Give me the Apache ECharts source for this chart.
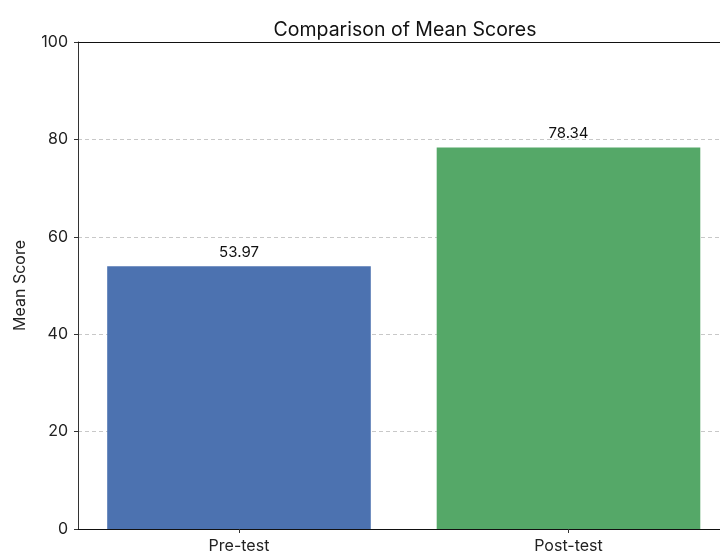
<!DOCTYPE html>
<html><head><meta charset="utf-8">
<script src="https://cdn.jsdelivr.net/npm/echarts@6/dist/echarts.min.js"></script>
<style>html,body{margin:0;padding:0;background:#fff}#c{width:720px;height:555px}</style>
</head><body><div id="c"></div>
<script>
const categories = ["Pre-test", "Post-test"];
const meanScores = [53.97, 78.34];
const barColors = ["#4C72B0", "#55A868"];
const yTicks = [0, 20, 40, 60, 80, 100];
const BAR_W = 0.8;

const chart = echarts.init(document.getElementById('c'), null, {renderer: 'canvas'});
const FONT = 'Inter, "Noto Sans", sans-serif';
const X_MIN = -0.4886, X_MAX = 1.4598;
chart.setOption({
  animation: false,
  backgroundColor: '#fff',
  title: {
    text: 'Comparison of Mean Scores', left: 400, top: 15, textAlign: 'center',
    textStyle: {fontFamily: FONT, fontSize: 19.5, fontWeight: 'normal', color: '#111'}
  },
  grid: {left: 78, top: 42, width: 642, height: 487},
  xAxis: [{
    type: 'value', min: X_MIN, max: X_MAX,
    axisLine: {show: true, onZero: false, lineStyle: {color: '#111', width: 1}},
    splitLine: {show: false},
    axisTick: {show: true, customValues: [0, 1], length: 4, lineStyle: {color: '#333'}},
    axisLabel: {
      customValues: [0, 1], margin: 9,
      formatter: v => categories[Math.round(v)] || '',
      fontFamily: FONT, fontSize: 16, color: '#222'
    }
  }, {
    type: 'value', position: 'top', min: X_MIN, max: X_MAX,
    axisLine: {show: true, onZero: false, lineStyle: {color: '#111', width: 1}},
    splitLine: {show: false}, axisTick: {show: false}, axisLabel: {show: false}
  }],
  yAxis: {
    type: 'value', min: 0, max: 100, interval: 20,
    name: 'Mean Score', nameLocation: 'middle', nameGap: 50, nameRotate: 90,
    nameTextStyle: {fontFamily: FONT, fontSize: 16, color: '#222'},
    axisLine: {show: true, onZero: false, lineStyle: {color: '#333', width: 1}},
    axisTick: {show: true, inside: false, length: 4, lineStyle: {color: '#333'}},
    axisLabel: {margin: 10, fontFamily: FONT, fontSize: 16, color: '#222'},
    splitLine: {show: true, lineStyle: {type: [4, 3], color: '#c8c8c8', width: 1}}
  },
  series: [{
    type: 'custom',
    data: meanScores.map((v, i) => [i, v]),
    encode: {x: 0, y: 1},
    renderItem: (params, api) => {
      const i = api.value(0), v = api.value(1);
      const p0 = api.coord([i - BAR_W / 2, v]);
      const p1 = api.coord([i + BAR_W / 2, 0]);
      return {
        type: 'rect',
        shape: {x: p0[0], y: p0[1], width: p1[0] - p0[0], height: p1[1] - p0[1]},
        style: {fill: barColors[params.dataIndex]},
        textContent: {
          style: {text: v.toFixed(2), fontFamily: FONT, fontSize: 15, fill: '#111'}
        },
        textConfig: {position: 'top', distance: 6}
      };
    }
  }]
});
</script></body></html>
